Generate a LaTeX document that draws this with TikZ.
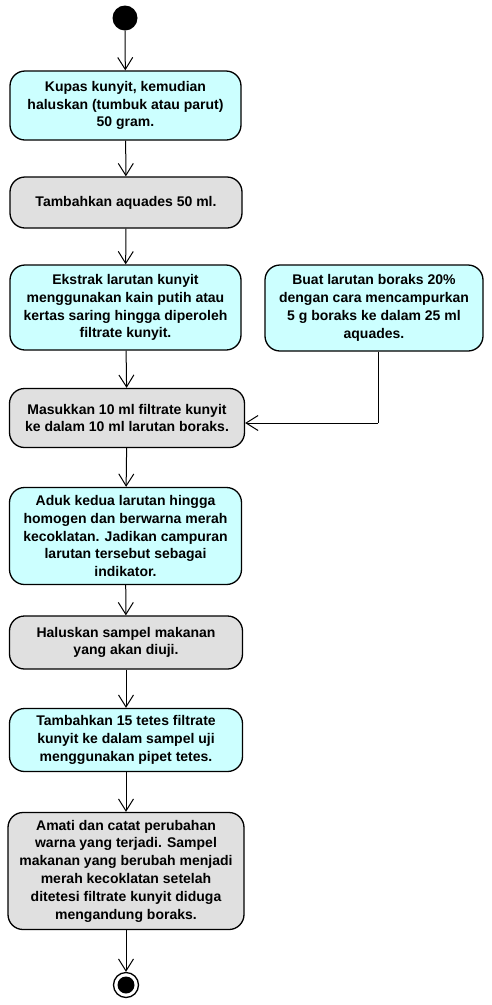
\documentclass[tikz,border=0pt]{standalone}
\usepackage{fontspec}
\setmainfont{Liberation Sans}
\usetikzlibrary{arrows.meta}
\definecolor{actcyan}{RGB}{204,255,255}
\definecolor{actgray}{RGB}{224,224,224}
\tikzset{
  act/.style={draw=black, line width=1.3pt, rounded corners=15pt, align=center,
    font=\fontsize{14}{17.8}\selectfont\bfseries, inner sep=0pt},
  cyanact/.style={act, fill=actcyan},
  grayact/.style={act, fill=actgray},
  flow/.style={draw=black, line width=1pt, -{Straight Barb[length=12pt,width=15pt,line width=1pt]}},
}
\begin{document}
\begin{tikzpicture}[x=1pt,y=-1pt]
\useasboundingbox (0,0) rectangle (492,1005);
\node[circle, fill=black, minimum size=25pt, inner sep=0pt] (start) at (125,18) {};
\node[cyanact, minimum width=231pt, minimum height=69pt] (b1) at (125.5,105.5)
  {Kupas kunyit, kemudian\\haluskan (tumbuk atau parut)\\50 gram.};
\node[grayact, minimum width=232pt, minimum height=51pt] (b2) at (126,202.5)
  {Tambahkan aquades 50 ml.};
\node[cyanact, minimum width=231pt, minimum height=85pt] (b3) at (125.5,307.5)
  {Ekstrak larutan kunyit\\menggunakan kain putih atau\\kertas saring hingga diperoleh\\filtrate kunyit.};
\node[cyanact, minimum width=218pt, minimum height=86pt] (b4) at (374,308)
  {Buat larutan boraks 20\%\\dengan cara mencampurkan\\5 g boraks ke dalam 25 ml\\aquades.};
\node[grayact, minimum width=235pt, minimum height=59pt] (b5) at (127,418)
  {Masukkan 10 ml filtrate kunyit\\ke dalam 10 ml larutan boraks.};
\node[cyanact, minimum width=232pt, minimum height=97pt] (b6) at (125.5,536)
  {Aduk kedua larutan hingga\\homogen dan berwarna merah\\kecoklatan. Jadikan campuran\\larutan tersebut sebagai\\indikator.};
\node[grayact, minimum width=233pt, minimum height=53pt] (b7) at (126,642.5)
  {Haluskan sampel makanan\\yang akan diuji.};
\node[cyanact, minimum width=233pt, minimum height=63pt] (b8) at (126,740)
  {Tambahkan 15 tetes filtrate\\kunyit ke dalam sampel uji\\menggunakan pipet tetes.};
\node[grayact, minimum width=236pt, minimum height=117pt] (b9) at (126,871)
  {Amati dan catat perubahan\\warna yang terjadi. Sampel\\makanan yang berubah menjadi\\merah kecoklatan setelah\\ditetesi filtrate kunyit diduga\\mengandung boraks.};
\node[circle, draw=black, line width=1.3pt, fill=white, minimum size=25pt, inner sep=0pt] (end) at (126,985) {};
\node[circle, fill=black, minimum size=17pt, inner sep=0pt] (endin) at (end.center) {};
\coordinate (corner) at (378,423);
\draw[flow] (start) -- (b1);
\draw[flow] (b1) -- (b2);
\draw[flow] (b2) -- (b3);
\draw[flow] (b3) -- (b5);
\draw[line width=1pt] (b4.south -| corner) -- (corner);
\draw[flow] (corner) -- (corner -| b5.east);
\draw[flow] (b5) -- (b6);
\draw[flow] (b6) -- (b7);
\draw[flow] (b7) -- (b8);
\draw[flow] (b8) -- (b9);
\draw[flow] (b9) -- (end);
\end{tikzpicture}
\end{document}
